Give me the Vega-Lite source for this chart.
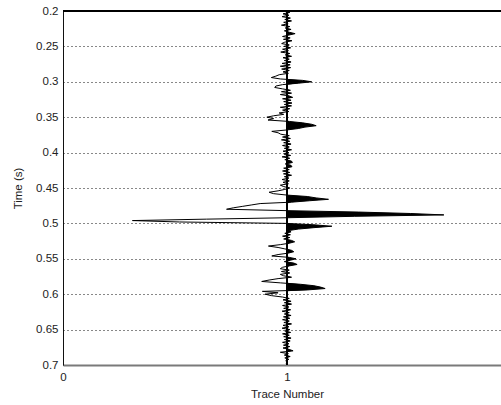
{
  "$schema": "https://vega.github.io/schema/vega-lite/v6.json",
  "width": 438,
  "height": 354,
  "autosize": "none",
  "padding": {"left": 63, "top": 11, "right": 0, "bottom": 40},
  "background": "white",
  "config": {
    "view": {"stroke": null},
    "font": "Liberation Sans",
    "axis": {"labelFont": "Liberation Sans", "titleFont": "Liberation Sans", "labelColor": "#222", "titleColor": "#222", "labelFontSize": 11.5, "titleFontSize": 11.5, "titleFontWeight": "normal"},
    "axisY": {"tickCount": 10, "labelOverlap": false, "grid": true, "gridDash": [1,3], "gridColor": "#111", "gridOpacity": 1, "tickSize": 0, "labelPadding": 5, "domainColor": "#111", "titlePadding": 12, "format": "~g"}
  },
  "data": {"values": [
    {"t":0.200,"a":-0.01},{"t":0.202,"a":0.012},{"t":0.204,"a":-0.018},{"t":0.206,"a":0.008},{"t":0.208,"a":-0.022},
    {"t":0.210,"a":0.015},{"t":0.212,"a":-0.01},{"t":0.214,"a":0.02},{"t":0.216,"a":-0.015},{"t":0.218,"a":0.005},
    {"t":0.220,"a":-0.025},{"t":0.222,"a":0.012},{"t":0.224,"a":-0.008},{"t":0.226,"a":0.018},{"t":0.228,"a":-0.012},
    {"t":0.230,"a":0.01},{"t":0.232,"a":0.036},{"t":0.234,"a":0.008},{"t":0.236,"a":-0.02},{"t":0.238,"a":0.014},
    {"t":0.240,"a":-0.016},{"t":0.242,"a":0.022},{"t":0.244,"a":-0.01},{"t":0.246,"a":-0.024},{"t":0.248,"a":0.01},
    {"t":0.250,"a":-0.014},{"t":0.252,"a":0.016},{"t":0.254,"a":-0.02},{"t":0.256,"a":0.006},{"t":0.258,"a":-0.028},
    {"t":0.260,"a":0.012},{"t":0.262,"a":-0.008},{"t":0.264,"a":0.02},{"t":0.266,"a":-0.018},{"t":0.268,"a":0.01},
    {"t":0.270,"a":-0.012},{"t":0.272,"a":0.018},{"t":0.274,"a":-0.022},{"t":0.276,"a":0.014},{"t":0.278,"a":-0.03},
    {"t":0.280,"a":0.016},{"t":0.282,"a":-0.024},{"t":0.284,"a":0.01},{"t":0.286,"a":-0.018},{"t":0.288,"a":0.006},
    {"t":0.290,"a":-0.035},{"t":0.292,"a":-0.05},{"t":0.294,"a":-0.07},{"t":0.296,"a":-0.03},{"t":0.298,"a":0.07},
    {"t":0.300,"a":0.11},{"t":0.302,"a":0.05},{"t":0.304,"a":-0.02},{"t":0.306,"a":-0.05},{"t":0.308,"a":-0.055},
    {"t":0.310,"a":-0.02},{"t":0.312,"a":0.015},{"t":0.314,"a":-0.025},{"t":0.316,"a":0.02},{"t":0.318,"a":-0.03},
    {"t":0.320,"a":0.01},{"t":0.322,"a":0.025},{"t":0.324,"a":-0.02},{"t":0.326,"a":0.018},{"t":0.328,"a":-0.015},
    {"t":0.330,"a":0.022},{"t":0.332,"a":-0.012},{"t":0.334,"a":0.02},{"t":0.336,"a":-0.03},{"t":0.338,"a":0.012},
    {"t":0.340,"a":-0.02},{"t":0.342,"a":0.008},{"t":0.344,"a":-0.035},{"t":0.346,"a":-0.015},{"t":0.348,"a":-0.06},
    {"t":0.350,"a":-0.09},{"t":0.352,"a":-0.06},{"t":0.354,"a":-0.085},{"t":0.356,"a":0.01},{"t":0.358,"a":0.07},
    {"t":0.360,"a":0.11},{"t":0.362,"a":0.13},{"t":0.364,"a":0.08},{"t":0.366,"a":0.05},{"t":0.368,"a":0.0},
    {"t":0.370,"a":-0.068},{"t":0.372,"a":-0.04},{"t":0.374,"a":-0.028},{"t":0.376,"a":0.01},{"t":0.378,"a":-0.02},
    {"t":0.380,"a":0.015},{"t":0.382,"a":-0.025},{"t":0.384,"a":0.012},{"t":0.386,"a":-0.015},{"t":0.388,"a":0.018},
    {"t":0.390,"a":-0.02},{"t":0.392,"a":0.01},{"t":0.394,"a":-0.012},{"t":0.396,"a":0.02},{"t":0.398,"a":-0.018},
    {"t":0.400,"a":0.008},{"t":0.402,"a":-0.014},{"t":0.404,"a":0.016},{"t":0.406,"a":-0.022},{"t":0.408,"a":0.012},
    {"t":0.410,"a":-0.01},{"t":0.412,"a":0.02},{"t":0.414,"a":0.024},{"t":0.416,"a":-0.008},{"t":0.418,"a":0.018},
    {"t":0.420,"a":0.022},{"t":0.422,"a":-0.015},{"t":0.424,"a":0.01},{"t":0.426,"a":-0.02},{"t":0.428,"a":0.012},
    {"t":0.430,"a":-0.016},{"t":0.432,"a":0.02},{"t":0.434,"a":-0.012},{"t":0.436,"a":0.008},{"t":0.438,"a":-0.022},
    {"t":0.440,"a":0.01},{"t":0.442,"a":-0.018},{"t":0.444,"a":0.006},{"t":0.446,"a":-0.03},{"t":0.448,"a":-0.015},
    {"t":0.450,"a":0.012},{"t":0.452,"a":-0.01},{"t":0.454,"a":-0.04},{"t":0.456,"a":-0.08},{"t":0.458,"a":-0.06},
    {"t":0.460,"a":0.0},{"t":0.462,"a":0.09},{"t":0.464,"a":0.13},{"t":0.466,"a":0.185},{"t":0.468,"a":0.1},
    {"t":0.470,"a":0.02},{"t":0.472,"a":-0.12},{"t":0.474,"a":-0.16},{"t":0.476,"a":-0.2},{"t":0.478,"a":-0.24},
    {"t":0.480,"a":-0.27},{"t":0.482,"a":0.0},{"t":0.484,"a":0.32},{"t":0.486,"a":0.55},{"t":0.488,"a":0.7},
    {"t":0.490,"a":0.3},{"t":0.492,"a":0.0},{"t":0.494,"a":-0.36},{"t":0.496,"a":-0.69},{"t":0.498,"a":-0.48},
    {"t":0.500,"a":0.0},{"t":0.502,"a":0.12},{"t":0.504,"a":0.2},{"t":0.506,"a":0.12},{"t":0.508,"a":0.05},
    {"t":0.510,"a":0.01},{"t":0.512,"a":0.018},{"t":0.514,"a":-0.01},{"t":0.516,"a":0.015},{"t":0.518,"a":-0.02},
    {"t":0.520,"a":0.012},{"t":0.522,"a":-0.015},{"t":0.524,"a":0.02},{"t":0.526,"a":0.034},{"t":0.528,"a":0.01},
    {"t":0.530,"a":-0.03},{"t":0.532,"a":-0.083},{"t":0.534,"a":-0.04},{"t":0.536,"a":-0.01},{"t":0.538,"a":0.02},
    {"t":0.540,"a":0.03},{"t":0.542,"a":0.005},{"t":0.544,"a":-0.04},{"t":0.546,"a":-0.068},{"t":0.548,"a":0.01},
    {"t":0.550,"a":0.04},{"t":0.552,"a":0.015},{"t":0.554,"a":-0.012},{"t":0.556,"a":0.03},{"t":0.558,"a":0.045},
    {"t":0.560,"a":0.01},{"t":0.562,"a":-0.02},{"t":0.564,"a":-0.03},{"t":0.566,"a":0.01},{"t":0.568,"a":-0.025},
    {"t":0.570,"a":0.012},{"t":0.572,"a":-0.03},{"t":0.574,"a":-0.015},{"t":0.576,"a":0.02},{"t":0.578,"a":-0.04},
    {"t":0.580,"a":-0.08},{"t":0.582,"a":-0.113},{"t":0.584,"a":-0.03},{"t":0.586,"a":0.06},{"t":0.588,"a":0.12},
    {"t":0.590,"a":0.15},{"t":0.592,"a":0.17},{"t":0.594,"a":0.09},{"t":0.596,"a":-0.11},{"t":0.598,"a":-0.04},
    {"t":0.600,"a":-0.098},{"t":0.602,"a":-0.07},{"t":0.604,"a":-0.02},{"t":0.606,"a":0.01},{"t":0.608,"a":-0.018},
    {"t":0.610,"a":0.018},{"t":0.612,"a":-0.012},{"t":0.614,"a":0.02},{"t":0.616,"a":-0.02},{"t":0.618,"a":0.008},
    {"t":0.620,"a":-0.015},{"t":0.622,"a":0.016},{"t":0.624,"a":-0.022},{"t":0.626,"a":0.01},{"t":0.628,"a":-0.012},
    {"t":0.630,"a":0.018},{"t":0.632,"a":-0.016},{"t":0.634,"a":0.012},{"t":0.636,"a":-0.02},{"t":0.638,"a":0.01},
    {"t":0.640,"a":-0.014},{"t":0.642,"a":0.02},{"t":0.644,"a":-0.018},{"t":0.646,"a":0.008},{"t":0.648,"a":-0.022},
    {"t":0.650,"a":0.012},{"t":0.652,"a":-0.01},{"t":0.654,"a":0.016},{"t":0.656,"a":-0.02},{"t":0.658,"a":0.01},
    {"t":0.660,"a":-0.015},{"t":0.662,"a":0.018},{"t":0.664,"a":-0.012},{"t":0.666,"a":0.014},{"t":0.668,"a":-0.02},
    {"t":0.670,"a":0.008},{"t":0.672,"a":-0.016},{"t":0.674,"a":0.012},{"t":0.676,"a":-0.018},{"t":0.678,"a":0.01},
    {"t":0.680,"a":0.027},{"t":0.682,"a":-0.03},{"t":0.684,"a":0.006},{"t":0.686,"a":-0.012},{"t":0.688,"a":0.014},
    {"t":0.690,"a":-0.01},{"t":0.692,"a":0.008},{"t":0.694,"a":-0.006},{"t":0.696,"a":0.004},{"t":0.698,"a":-0.004},
    {"t":0.700,"a":0.0}
  ]},
  "layer": [
    {
      "mark": {"type": "line", "color": "black", "strokeWidth": 1},
      "encoding": {
        "y": {"field": "t", "type": "quantitative", "title": "Time (s)",
              "scale": {"domain": [0.2, 0.7], "reverse": true, "nice": false, "zero": false}},
        "x": {"field": "a", "type": "quantitative",
              "scale": {"domain": [-1, 0.955], "nice": false, "zero": false},
              "axis": {"orient": "bottom", "values": [-1, 0], "labelExpr": "'' + (datum.value + 1)", "title": "Trace Number",
                       "grid": false, "tickSize": 0, "labelPadding": 6, "labelFlush": false, "labelOverlap": false, "domainColor": "#7a7a7a", "domainWidth": 2,
                       "titleX": 224, "titlePadding": 6}},
        "order": {"field": "t"}
      }
    },
    {
      "mark": {"type": "area", "orient": "horizontal", "color": "black", "interpolate": "linear"},
      "encoding": {
        "y": {"field": "t", "type": "quantitative", "title": "Time (s)"},
        "x": {"field": "a", "type": "quantitative",
              "scale": {"domain": [0, 0.955], "range": [224, 438], "clamp": true, "nice": false, "zero": false},
              "axis": null},
        "x2": {"datum": 0}
      }
    },
    {
      "mark": {"type": "rule", "color": "black", "strokeWidth": 1},
      "encoding": {"x": {"datum": 0, "type": "quantitative", "scale": {"domain": [-1, 0.955], "nice": false, "zero": false}, "axis": null}}
    },
    {
      "mark": {"type": "rule", "color": "black", "strokeWidth": 1},
      "encoding": {"y": {"datum": 0.2, "type": "quantitative", "title": "Time (s)"}}
    }
  ],
  "resolve": {"scale": {"x": "independent"}}
}
